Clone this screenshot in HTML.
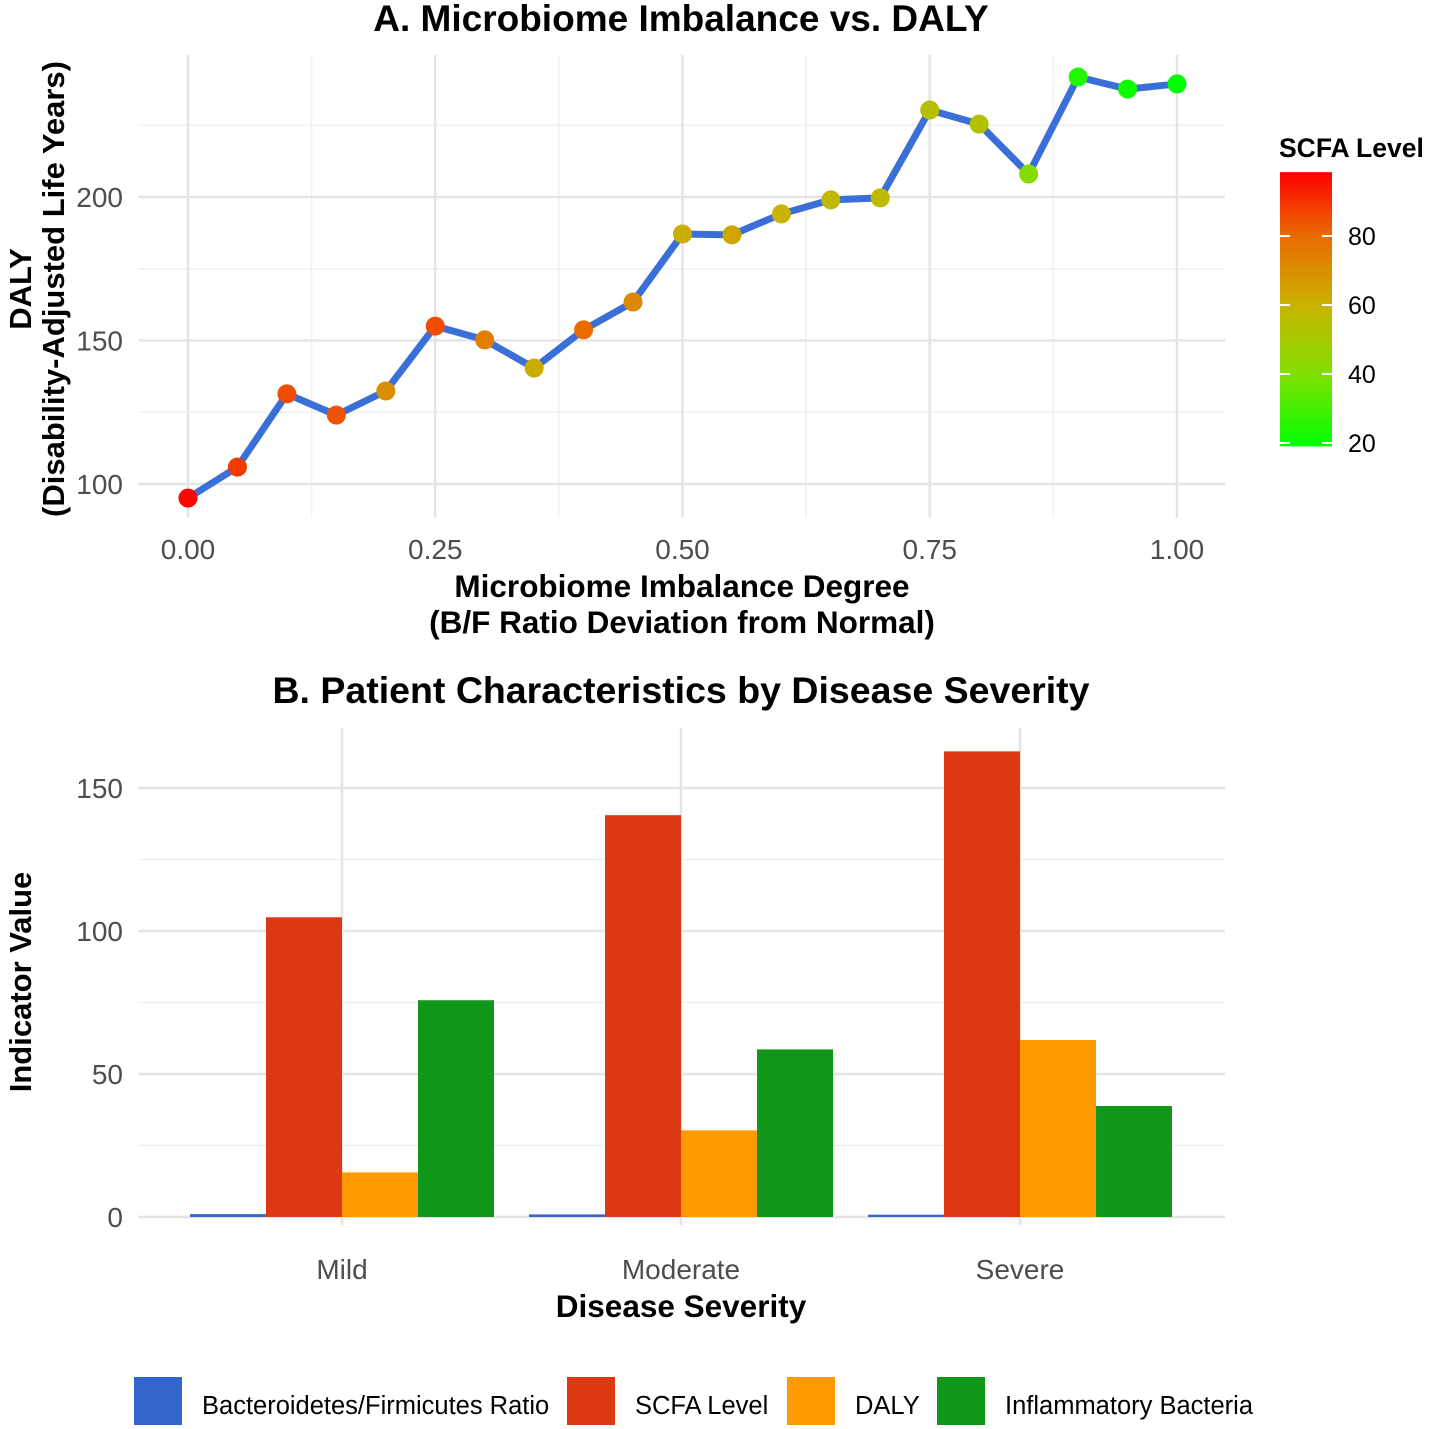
<!DOCTYPE html>
<html><head><meta charset="utf-8">
<style>
html,body{margin:0;padding:0;background:#fff;}
svg{display:block;font-family:"Liberation Sans",Arial,sans-serif;}
</style></head>
<body>
<svg id="chart" width="1429" height="1429" viewBox="0 0 1429 1429" xmlns="http://www.w3.org/2000/svg">
<defs>
<linearGradient id="scfaGrad" x1="0" y1="1" x2="0" y2="0">
<stop offset="0" stop-color="#00ff00"/>
<stop offset="0.26" stop-color="#7fe000"/>
<stop offset="0.51" stop-color="#c8b400"/>
<stop offset="0.77" stop-color="#ea6a00"/>
<stop offset="1" stop-color="#ff0000"/>
</linearGradient>
</defs>
<g id="gA"></g>
<g id="gB"></g>
</svg>
<script>
const imbalance=[0,0.05,0.10,0.15,0.20,0.25,0.30,0.35,0.40,0.45,0.50,0.55,0.60,0.65,0.70,0.75,0.80,0.85,0.90,0.95,1.00];
const dalyVals=[95.1,105.9,131.4,124,132.4,155,150.2,140.4,153.7,163.4,187.1,186.8,194.1,199,199.7,230.3,225.4,208,241.8,237.6,239.4];
const scfaVals=[97,88,85,84,70,85,75,62,80,72,62,64,60,58,57,55,54,42,25,22,20];
const xTicksA=["0.00","0.25","0.50","0.75","1.00"];
const yTicksA=[100,150,200];
const cbTicks=[20,40,60,80];

const categories=["Mild","Moderate","Severe"];
const seriesNames=["Bacteroidetes/Firmicutes Ratio","SCFA Level","DALY","Inflammatory Bacteria"];
const bfRatio=[1.0,0.9,0.8];
const scfaBar=[104.8,140.5,162.8];
const dalyBar=[15.6,30.3,61.9];
const inflBar=[75.8,58.6,38.8];
const yTicksB=[0,50,100,150];
const seriesColors=["#3366cc","#dc3912","#ff9900","#109618"];

const NS="http://www.w3.org/2000/svg";
function mk(parent,tag,attrs,text){const e=document.createElementNS(NS,tag);for(const k in attrs)e.setAttribute(k,attrs[k]);if(text!==undefined)e.textContent=text;parent.appendChild(e);return e;}

// ---------- Panel A ----------
const gA=document.getElementById('gA');
const pA={l:138,r:1225,t:55,b:518};
const xA=v=>188+v*989;
const yA=v=>484-(v-100)*2.87;
function scfaColor(s){
  const stops=[[20,[0,255,0]],[40,[127,224,0]],[60,[200,180,0]],[80,[234,106,0]],[98,[255,0,0]]];
  if(s<=stops[0][0])return 'rgb(0,255,0)';
  for(let i=1;i<stops.length;i++){if(s<=stops[i][0]){const a=stops[i-1],b=stops[i];const t=(s-a[0])/(b[0]-a[0]);const c=a[1].map((v,j)=>Math.round(v+(b[1][j]-v)*t));return `rgb(${c})`;}}
  return 'rgb(255,0,0)';
}
[0.125,0.375,0.625,0.875].forEach(v=>{const l=mk(gA,'line',{x1:xA(v),x2:xA(v),y1:pA.t,y2:pA.b,stroke:'#f0f0f0','stroke-width':1.5});});
[125,175,225].forEach(v=>{const l=mk(gA,'line',{x1:pA.l,x2:pA.r,y1:yA(v),y2:yA(v),stroke:'#f0f0f0','stroke-width':1.5});});
xTicksA.forEach(t=>{const v=parseFloat(t);const l=mk(gA,'line',{x1:xA(v),x2:xA(v),y1:pA.t,y2:pA.b,stroke:'#e5e5e5','stroke-width':2.5});
 const tx=mk(gA,'text',{x:xA(v),y:559,'text-anchor':'middle','font-size':28,fill:'#4d4d4d'},t);});
yTicksA.forEach(v=>{const l=mk(gA,'line',{x1:pA.l,x2:pA.r,y1:yA(v),y2:yA(v),stroke:'#e5e5e5','stroke-width':2.5});
 const tx=mk(gA,'text',{x:123,y:yA(v)+10,'text-anchor':'end','font-size':28,fill:'#4d4d4d'},v);});
const pts=imbalance.map((x,i)=>xA(x)+','+yA(dalyVals[i])).join(' ');
const pl=mk(gA,'polyline',{points:pts,fill:'none',stroke:'#3a6fd8','stroke-width':7,'stroke-linejoin':'round','stroke-linecap':'round'});

imbalance.forEach((x,i)=>{const c=mk(gA,'circle',{cx:xA(x),cy:yA(dalyVals[i]),r:9.5,fill:scfaColor(scfaVals[i])});});
let t;
t=mk(gA,'text',{x:681,y:31,'text-anchor':'middle','font-size':37,'font-weight':'bold',fill:'#000'},'A. Microbiome Imbalance vs. DALY');
t=mk(gA,'text',{x:682,y:597,'text-anchor':'middle','font-size':31.5,'font-weight':'bold',fill:'#000'},'Microbiome Imbalance Degree');
t=mk(gA,'text',{x:682,y:633,'text-anchor':'middle','font-size':31.5,'font-weight':'bold',fill:'#000'},'(B/F Ratio Deviation from Normal)');
t=mk(gA,'text',{x:0,y:0,'text-anchor':'middle','font-size':31,'font-weight':'bold',fill:'#000',transform:'translate(31,289) rotate(-90)'},'DALY');
t=mk(gA,'text',{x:0,y:0,'text-anchor':'middle','font-size':31,'font-weight':'bold',fill:'#000',transform:'translate(64,289) rotate(-90)'},'(Disability-Adjusted Life Years)');
const cbY=v=>443-(v-20)*3.45;
t=mk(gA,'text',{x:1279,y:157,'font-size':26.5,'font-weight':'bold',fill:'#000'},'SCFA Level');
const cb=mk(gA,'rect',{x:1280,y:cbY(98.5),width:52,height:cbY(19)-cbY(98.5),fill:'url(#scfaGrad)'});
cbTicks.forEach(v=>{const y=cbY(v);
 let a=mk(gA,'line',{x1:1280,x2:1290,y1:y,y2:y,stroke:'#fff','stroke-width':2});
 a=mk(gA,'line',{x1:1322,x2:1332,y1:y,y2:y,stroke:'#fff','stroke-width':2});
 const tx=mk(gA,'text',{x:1348,y:y+9,'font-size':25,fill:'#000'},v);});

// ---------- Panel B ----------
const gB=document.getElementById('gB');
const pB={l:138,r:1225,t:728,b:1225};
const yB=v=>1217-v*2.86;
const xB=i=>342+i*339;
const barW=76;
[25,75,125].forEach(v=>{const l=mk(gB,'line',{x1:pB.l,x2:pB.r,y1:yB(v),y2:yB(v),stroke:'#f0f0f0','stroke-width':1.5});});
yTicksB.forEach(v=>{const l=mk(gB,'line',{x1:pB.l,x2:pB.r,y1:yB(v),y2:yB(v),stroke:'#e5e5e5','stroke-width':2.5});
 const tx=mk(gB,'text',{x:123,y:yB(v)+10,'text-anchor':'end','font-size':28,fill:'#4d4d4d'},v);});
categories.forEach((c,i)=>{const l=mk(gB,'line',{x1:xB(i),x2:xB(i),y1:pB.t,y2:pB.b,stroke:'#e5e5e5','stroke-width':2.5});
 const tx=mk(gB,'text',{x:xB(i),y:1279,'text-anchor':'middle','font-size':28,fill:'#4d4d4d'},c);});
const seriesData=[bfRatio,scfaBar,dalyBar,inflBar];
seriesData.forEach((arr,s)=>{arr.forEach((v,i)=>{const x=xB(i)-2*barW+s*barW;const y=yB(v);
 const r=mk(gB,'rect',{x:x,y:y,width:barW,height:yB(0)-y,fill:seriesColors[s]});});});
t=mk(gB,'text',{x:681,y:703,'text-anchor':'middle','font-size':37.5,'font-weight':'bold',fill:'#000'},'B. Patient Characteristics by Disease Severity');
t=mk(gB,'text',{x:681,y:1317,'text-anchor':'middle','font-size':31.5,'font-weight':'bold',fill:'#000'},'Disease Severity');
t=mk(gB,'text',{x:0,y:0,'text-anchor':'middle','font-size':31,'font-weight':'bold',fill:'#000',transform:'translate(31,982) rotate(-90)'},'Indicator Value');
const legX=[134,567,787,937];
seriesNames.forEach((n,s)=>{const k=mk(gB,'rect',{x:legX[s],y:1377,width:48,height:48,fill:seriesColors[s]});
 const tx=mk(gB,'text',{x:legX[s]+68,y:1414,'font-size':25.5,fill:'#000'},n);});
</script>
</body></html>
